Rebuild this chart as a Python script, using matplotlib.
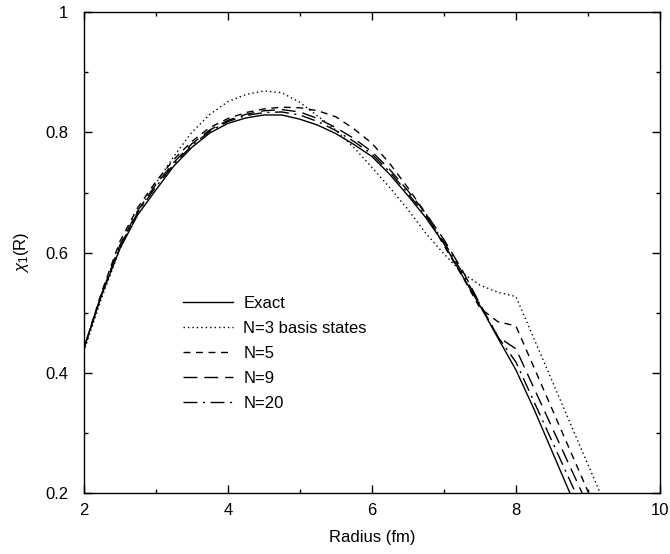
import numpy as np
import matplotlib
matplotlib.use("Agg")
import matplotlib.pyplot as plt
from matplotlib.ticker import MultipleLocator

plt.rcParams["font.family"] = ["Liberation Sans", "DejaVu Sans"]
plt.rcParams["mathtext.fontset"] = "custom"
plt.rcParams["mathtext.rm"] = "Liberation Sans"
plt.rcParams["mathtext.it"] = "Liberation Sans:italic"

# radius grid (fm) used for the curves
radius = [2.0, 2.25, 2.5, 2.75, 3.0, 3.25, 3.5, 3.75, 4.0, 4.25, 4.5, 4.75,
          5.0, 5.25, 5.5, 5.75, 6.0, 6.25, 6.5, 6.75, 7.0, 7.25, 7.5, 7.75, 8.0]

exact = [0.440, 0.530, 0.606, 0.663, 0.704, 0.744, 0.775, 0.799, 0.815, 0.824,
         0.829, 0.829, 0.822, 0.812, 0.798, 0.780, 0.760, 0.730, 0.695, 0.658,
         0.615, 0.563, 0.512, 0.458, 0.405]
exact_tail_x = [8.25, 8.5, 8.75]
exact_tail_y = [0.340, 0.270, 0.200]

n3 = [0.435, 0.525, 0.605, 0.668, 0.715, 0.760, 0.800, 0.830, 0.851, 0.863,
      0.869, 0.866, 0.850, 0.827, 0.804, 0.775, 0.742, 0.708, 0.672, 0.632,
      0.598, 0.567, 0.546, 0.534, 0.527]
n5 = [0.440, 0.535, 0.618, 0.675, 0.718, 0.755, 0.785, 0.808, 0.823, 0.833,
      0.839, 0.842, 0.841, 0.836, 0.826, 0.806, 0.782, 0.748, 0.708, 0.665,
      0.612, 0.562, 0.508, 0.485, 0.478]
n9 = [0.440, 0.532, 0.612, 0.670, 0.713, 0.750, 0.781, 0.804, 0.820, 0.830,
      0.836, 0.838, 0.834, 0.823, 0.808, 0.790, 0.768, 0.738, 0.703, 0.665,
      0.622, 0.572, 0.515, 0.460, 0.440]
n20 = [0.440, 0.532, 0.610, 0.667, 0.709, 0.747, 0.778, 0.802, 0.818, 0.828,
       0.833, 0.834, 0.829, 0.818, 0.803, 0.785, 0.764, 0.734, 0.699, 0.661,
       0.618, 0.568, 0.514, 0.460, 0.418]

# where each truncated expansion meets the bottom of the frame
n3_end = (9.17, 0.2)
n5_end = (9.01, 0.2)
n9_end = (8.92, 0.2)
n20_end = (8.83, 0.2)

fig = plt.figure(figsize=(6.7, 5.54), dpi=100)
ax = fig.add_axes([0.125, 0.110, 0.860, 0.868])

lw = 1.0
ax.plot(radius + exact_tail_x, exact + exact_tail_y, color="black", lw=lw,
        ls="-", label="Exact")
ax.plot(radius + [n3_end[0]], n3 + [n3_end[1]], color="black", lw=lw,
        ls=(0, (1, 2.2)), label="N=3 basis states")
ax.plot(radius + [n5_end[0]], n5 + [n5_end[1]], color="black", lw=lw,
        ls=(0, (5, 4)), label="N=5")
ax.plot(radius + [n9_end[0]], n9 + [n9_end[1]], color="black", lw=lw,
        ls=(0, (10, 5)), label="N=9")
ax.plot(radius + [n20_end[0]], n20 + [n20_end[1]], color="black", lw=lw,
        ls=(0, (10, 4, 1.5, 4)), label="N=20")

ax.set_xlim(2, 10)
ax.set_ylim(0.2, 1.0)
ax.xaxis.set_major_locator(MultipleLocator(2))
ax.xaxis.set_minor_locator(MultipleLocator(1))
ax.yaxis.set_major_locator(MultipleLocator(0.2))
ax.yaxis.set_minor_locator(MultipleLocator(0.1))
ax.xaxis.set_major_formatter(plt.FuncFormatter(lambda v, p: f"{v:g}"))
ax.yaxis.set_major_formatter(plt.FuncFormatter(lambda v, p: f"{v:g}"))
ax.tick_params(which="both", direction="in", top=True, right=True,
               labelsize=12, width=1.0)
ax.tick_params(which="major", length=6)
ax.tick_params(axis="x", which="major", pad=7)
ax.tick_params(axis="y", which="major", pad=11)
ax.tick_params(which="minor", length=3)
for s in ax.spines.values():
    s.set_linewidth(1.0)

ax.set_xlabel("Radius (fm)", fontsize=12, labelpad=9)
ax.set_ylabel(r"$\chi_1$(R)", fontsize=12, labelpad=10)

ax.legend(loc="upper left", bbox_to_anchor=(0.16, 0.424), frameon=False,
          fontsize=12, handlelength=3.0, handletextpad=0.65,
          labelspacing=0.6, borderaxespad=0)

fig.savefig("out.png", dpi=100)
